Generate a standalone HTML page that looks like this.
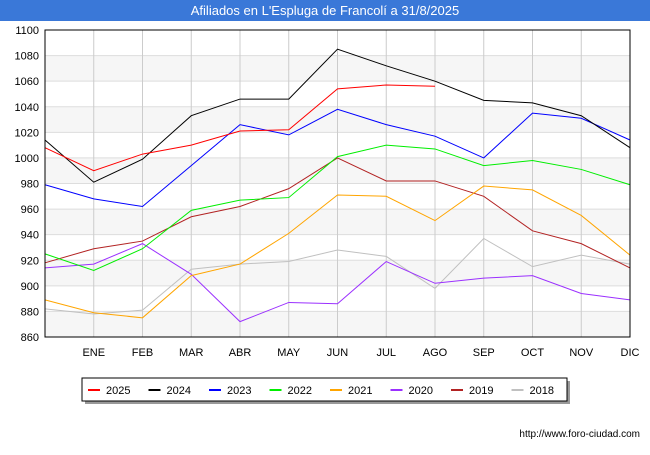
<!DOCTYPE html>
<html><head><meta charset="utf-8"><style>
body{margin:0;background:#fff;font-family:"Liberation Sans",sans-serif}
</style></head><body>
<svg id="c" width="650" height="450" xmlns="http://www.w3.org/2000/svg">
<rect x="0" y="0" width="650" height="21" fill="#3a78d8"/>
<text x="325" y="15" text-anchor="middle" fill="#fff" font-size="13">Afiliados en L'Espluga de Francolí a 31/8/2025</text>
<g id="grid"></g><g id="series"></g><g id="axes"></g>
<rect x="45" y="30" width="585" height="307" fill="none" stroke="#000"/>
<rect x="85" y="381" width="485" height="23" fill="#999"/>
<rect x="82" y="378" width="485" height="23" fill="#fff" stroke="#000"/>
<g id="legend"></g>
<text x="640" y="437" text-anchor="end" font-size="10" fill="#000">http://www.foro-ciudad.com</text>
</svg>
<script>
const months=["","ENE","FEB","MAR","ABR","MAY","JUN","JUL","AGO","SEP","OCT","NOV","DIC"];
const yTicks=[860,880,900,920,940,960,980,1000,1020,1040,1060,1080,1100];
const names=["2025","2024","2023","2022","2021","2020","2019","2018"];
const colors=["#ff0000","#000000","#0000ff","#00ee00","#ffa500","#9b30ff","#b22222","#c0c0c0"];
const s2025=[1008,990,1003,1010,1021,1022,1054,1057,1056];
const s2024=[1014,981,999,1033,1046,1046,1085,1072,1060,1045,1043,1033,1008];
const s2023=[979,968,962,994,1026,1018,1038,1026,1017,1000,1035,1031,1014];
const s2022=[925,912,929,959,967,969,1001,1010,1007,994,998,991,979];
const s2021=[889,879,875,908,917,941,971,970,951,978,975,955,924];
const s2020=[914,917,933,909,872,887,886,919,902,906,908,894,889];
const s2019=[918,929,935,954,962,976,1000,982,982,970,943,933,914];
const s2018=[882,878,881,913,917,919,928,923,898,937,915,924,917];
const data=[s2025,s2024,s2023,s2022,s2021,s2020,s2019,s2018];
const NS="http://www.w3.org/2000/svg";
const X=i=>45+i*585/12, Y=v=>337-(v-860)*307/240;
function mk(t,a,p){const e=document.createElementNS(NS,t);for(const k in a)e.setAttribute(k,a[k]);document.getElementById(p).appendChild(e);return e;}
for(let k=0;k<12;k++){if(k%2==0){const r=mk("rect",{x:45,y:Y(yTicks[k+1]),width:585,height:Y(yTicks[k])-Y(yTicks[k+1]),fill:"#f6f6f6"},"grid");}}
yTicks.forEach(v=>{const l=mk("line",{x1:45,x2:630,y1:Y(v),y2:Y(v),stroke:"#ddd"},"grid");


const t=mk("text",{x:39,y:Y(v)+4,"text-anchor":"end","font-size":"11"},"axes");t.textContent=v;

});
months.forEach((m,i)=>{const l=mk("line",{x1:X(i),x2:X(i),y1:30,y2:337,stroke:"#ccc"},"grid");


if(m){const t=mk("text",{x:X(i),y:356,"text-anchor":"middle","font-size":"11"},"axes");t.textContent=m;

}});
for(let s=data.length-1;s>=0;s--){const p=mk("polyline",{points:data[s].map((v,i)=>X(i)+","+Y(v)).join(" "),fill:"none",stroke:colors[s],"stroke-width":1},"series");

}
names.forEach((n,i)=>{const x=88+i*60.5;const l=mk("line",{x1:x,x2:x+12,y1:390,y2:390,stroke:colors[i],"stroke-width":2},"legend");


const t=mk("text",{x:x+18,y:394,"font-size":"11"},"legend");t.textContent=n;

});
</script>
</body></html>
